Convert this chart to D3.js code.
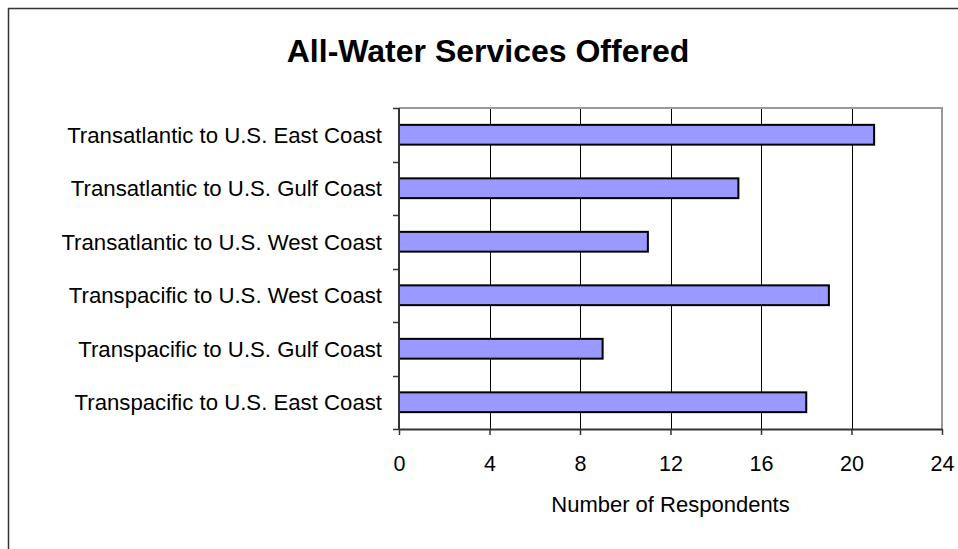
<!DOCTYPE html>
<html>
<head>
<meta charset="utf-8">
<script src="https://cdn.jsdelivr.net/npm/d3@7"></script>
<style>
  html, body { margin: 0; padding: 0; background: #fff; }
  svg { display: block; font-family: "Liberation Sans", Arial, sans-serif; }
</style>
</head>
<body>
<svg id="chart" width="958" height="549"></svg>
<script>
// Routes, top to bottom, and number of respondents offering each
const categories = [
  "Transatlantic to U.S. East Coast",
  "Transatlantic to U.S. Gulf Coast",
  "Transatlantic to U.S. West Coast",
  "Transpacific to U.S. West Coast",
  "Transpacific to U.S. Gulf Coast",
  "Transpacific to U.S. East Coast"
];
const respondents = [21, 15, 11, 19, 9, 18];
const xTicks = [0, 4, 8, 12, 16, 20, 24];

const svg = d3.select("#chart");

// Outer chart frame (runs past the right and bottom edges)
svg.append("rect")
  .attr("x", 8.5).attr("y", 8.5)
  .attr("width", 980).attr("height", 600)
  .attr("fill", "#fff").attr("stroke", "#333").attr("stroke-width", 1.5);

const plot = { left: 399, top: 108, right: 942, bottom: 429 };

const x = d3.scaleLinear().domain([0, 24]).range([plot.left, plot.right]);
const y = d3.scaleBand().domain(categories).range([plot.top, plot.bottom]).paddingInner(0.63).paddingOuter(0.315);
const yEdge = d3.scaleLinear().domain([0, categories.length]).range([plot.top, plot.bottom]);

// Title
svg.append("text")
  .attr("x", 488).attr("y", 62)
  .attr("text-anchor", "middle")
  .attr("font-size", 32).attr("font-weight", "bold")
  .attr("fill", "#000")
  .text("All-Water Services Offered");

// Vertical gridlines
svg.append("g").selectAll("line")
  .data(xTicks.filter(t => t > 0 && t < 24))
  .join("line")
  .attr("x1", d => Math.round(x(d)) + 0.5).attr("x2", d => Math.round(x(d)) + 0.5)
  .attr("y1", plot.top).attr("y2", plot.bottom)
  .attr("stroke", "#000").attr("stroke-width", 1);

// Plot frame: top and right in gray
svg.append("path")
  .attr("d", `M${plot.left},${plot.top}H${plot.right}V${plot.bottom}`)
  .attr("fill", "none").attr("stroke", "#999").attr("stroke-width", 2);

// Bars
svg.append("g").selectAll("rect")
  .data(categories.map((c, i) => ({ c, v: respondents[i] })))
  .join("rect")
  .attr("x", x(0))
  .attr("y", d => y(d.c))
  .attr("width", d => x(d.v) - x(0))
  .attr("height", y.bandwidth())
  .attr("fill", "#9999FF")
  .attr("stroke", "#000").attr("stroke-width", 2);

// X axis
const xAxis = svg.append("g")
  .attr("transform", `translate(0,${plot.bottom})`)
  .call(d3.axisBottom(x).tickValues(xTicks).tickSize(6).tickSizeOuter(0).tickPadding(21));
xAxis.select(".domain").attr("stroke", "#333").attr("stroke-width", 2);
xAxis.selectAll(".tick line").attr("stroke", "#333").attr("stroke-width", 1.5);
xAxis.selectAll(".tick text")
  .attr("font-family", "Liberation Sans, Arial, sans-serif")
  .attr("font-size", 21.5).attr("fill", "#000");

// Y axis: line with ticks at category boundaries
svg.append("line")
  .attr("x1", plot.left).attr("x2", plot.left)
  .attr("y1", plot.top).attr("y2", plot.bottom)
  .attr("stroke", "#333").attr("stroke-width", 2);
svg.append("g").selectAll("line")
  .data(d3.range(categories.length + 1))
  .join("line")
  .attr("x1", plot.left - 6).attr("x2", plot.left)
  .attr("y1", d => Math.round(yEdge(d)) + 0.5).attr("y2", d => Math.round(yEdge(d)) + 0.5)
  .attr("stroke", "#333").attr("stroke-width", 1.5);

// Category labels
svg.append("g").selectAll("text")
  .data(categories)
  .join("text")
  .attr("x", 382)
  .attr("y", d => y(d) + y.bandwidth() / 2)
  .attr("dy", "0.35em")
  .attr("text-anchor", "end")
  .attr("font-size", 22.2).attr("fill", "#000")
  .text(d => d);

// Axis title
svg.append("text")
  .attr("x", (plot.left + plot.right) / 2).attr("y", 512)
  .attr("text-anchor", "middle")
  .attr("font-size", 22).attr("fill", "#000")
  .text("Number of Respondents");
</script>
</body>
</html>
